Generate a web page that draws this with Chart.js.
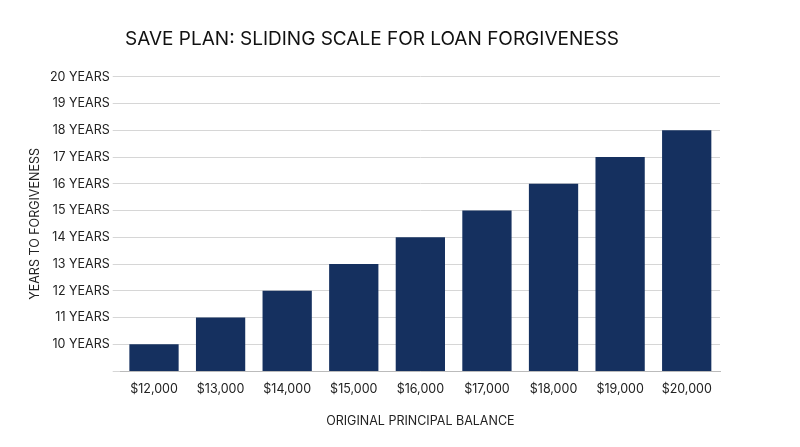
<!DOCTYPE html>
<html><head><meta charset="utf-8">
<script src="https://cdn.jsdelivr.net/npm/chart.js@4"></script>
<style>html,body{margin:0;padding:0;background:#fff}#w{width:800px;height:447px}</style>
</head><body><div id="w"><canvas id="c"></canvas></div>
<script>
const categories = ['$12,000','$13,000','$14,000','$15,000','$16,000','$17,000','$18,000','$19,000','$20,000'];
const years = [10,11,12,13,14,15,16,17,18];
const title = 'SAVE PLAN: SLIDING SCALE FOR LOAN FORGIVENESS';
Chart.defaults.font.family = 'Inter, Roboto, sans-serif';
Chart.defaults.color = '#222';
new Chart(document.getElementById('c'), {
  type: 'bar',
  data: { labels: categories, datasets: [{ data: years, backgroundColor: '#15305f', barPercentage: 0.74, categoryPercentage: 1 }] },
  options: {
    responsive: true, maintainAspectRatio: false, animation: false,
    layout: { padding: { left: 24, right: 80, top: 28, bottom: 14 } },
    plugins: {
      legend: { display: false }, tooltip: { enabled: false },
      title: { display: true, text: title, font: { size: 19, weight: 'normal' }, color: '#111', padding: { bottom: 26 } }
    },
    scales: {
      x: { grid: { display: false }, border: { color: '#bbb' }, ticks: { font: { size: 12.5 }, color: '#222' },
           title: { display: true, text: 'ORIGINAL PRINCIPAL BALANCE', font: { size: 12.5 }, color: '#222', padding: { top: 14 } } },
      y: { min: 9, max: 20, border: { display: false },
           grid: { color: '#d6d6d6' },
           ticks: { stepSize: 1, font: { size: 12.5 }, color: '#222', callback: v => v === 9 ? '' : v + ' YEARS' },
           title: { display: true, text: 'YEARS TO FORGIVENESS', font: { size: 12.5 }, color: '#222' } }
    }
  }
});
</script></body></html>
